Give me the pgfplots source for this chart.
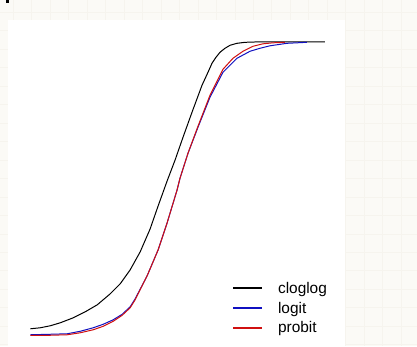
\documentclass[border=0pt]{standalone}
\usepackage{pgfplots}
\pgfplotsset{compat=1.18}
\usepackage{fontspec}
\setmainfont{Liberation Sans}
\definecolor{bgc}{HTML}{FBFAF6}
\definecolor{gridc}{HTML}{F6F4EE}
\definecolor{lgblue}{HTML}{1010C0}
\definecolor{lgred}{HTML}{D01010}
\begin{document}
\begin{tikzpicture}[x=1bp,y=1bp]
% background (pixel px,py -> (px, 346-py))
\fill[bgc] (0,0) rectangle (417,346);
\foreach \gx in {13,31.5,...,417} \draw[gridc,line width=0.8bp] (\gx,0) -- (\gx,346);
\foreach \gy in {1,19.5,...,346} \draw[gridc,line width=0.8bp] (0,\gy) -- (417,\gy);
\fill[white] (8,0) rectangle (345,326);
\fill[black] (6,343.5) rectangle (9,346);
\begin{axis}[
  at={(0,0)}, anchor=south west,
  width=417bp, height=346bp, scale only axis,
  xmin=0, xmax=417, ymin=0, ymax=346, y dir=reverse,
  hide axis, clip=false,
  legend cell align=left,
  legend style={at={(axis cs:230,279)}, anchor=north west, draw=none, fill=none,
    font=\fontsize{15.5}{18}\selectfont,
    row sep=0pt, column sep=0pt,
    nodes={inner ysep=0pt, inner xsep=0pt, text height=12.5bp, text depth=7.2bp}},
]
\addplot[black, line width=1bp,
  legend image code/.code={\fill[black] (0bp,2bp) rectangle (28bp,3bp);}] coordinates {
(30,329) (40,328) (50,326) (60,323) (73,318) (85,312) (97,305) (110,294)
(120,284) (130,270) (140,252) (150,229) (158,206) (167,181) (175,160)
(183,137) (192,112) (202,85) (208,72) (212,63) (216,57) (220,52) (225,48)
(230,45) (237,43) (245,42) (260,41.5) (325,41.5)};
\addlegendentry{\hspace*{16bp}cloglog}
\addplot[lgblue, line width=1bp,
  legend image code/.code={\fill[lgblue] (0bp,2bp) rectangle (28bp,3bp);}] coordinates {
(30,335) (50,334.5) (67,334) (80,331.5) (93,328) (103,324.5) (113,320)
(122,314.5) (130,307) (135,299) (147,276) (158,250) (167,223) (177,190)
(180,178) (188,153) (198,127) (210,97) (223,72) (237,58) (250,51) (260,48)
(270,45.5) (287,43) (307,42)};
\addlegendentry{\hspace*{16bp}logit}
\addplot[lgred, line width=1bp,
  legend image code/.code={\fill[lgred] (0bp,2bp) rectangle (28bp,3bp);}] coordinates {
(30,335.5) (50,335.5) (67,335) (80,333) (93,330) (103,326.5) (113,321.5)
(122,315.5) (130,308) (135,300) (147,276) (158,250) (167,223) (177,190)
(180,178) (188,153) (198,126) (210,95) (223,69) (233,58) (243,51) (253,46)
(263,43.5) (273,42.5) (285,42)};
\addlegendentry{\hspace*{16bp}probit}
\end{axis}
\end{tikzpicture}
\end{document}
